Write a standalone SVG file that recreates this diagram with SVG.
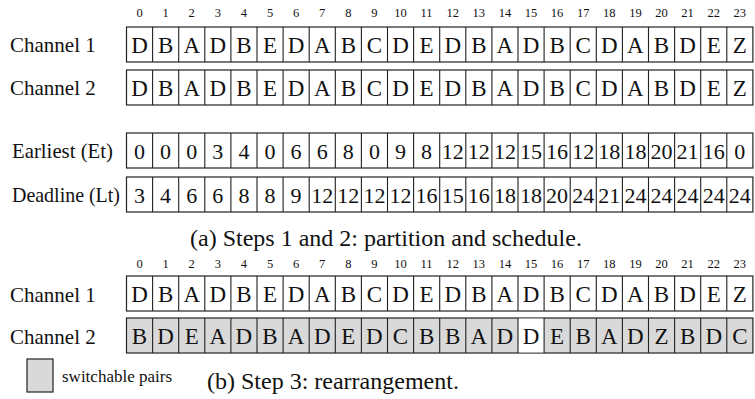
<svg xmlns="http://www.w3.org/2000/svg" width="755" height="399" viewBox="0 0 755 399" font-family="'Liberation Serif', 'Times New Roman', serif">
<style>
text{font-family:"Liberation Serif","Times New Roman",serif;fill:#111}
.idx{font-size:12.5px;text-anchor:middle}
.cell{font-size:23px;text-anchor:middle}
.num{font-size:22px;text-anchor:middle}
.lbl{font-size:21px}
.cap{font-size:24px}
.leg{font-size:17px}
.row{fill:#fff;stroke:#222;stroke-width:1.2}
.row.g{fill:#d9d9d9}
.div{stroke:#222;stroke-width:1.1}
</style>
<defs>
<g id="dividers">
<path class="div" d="M152.6 0v35M178.7 0v35M204.8 0v35M230.9 0v35M257 0v35M283.1 0v35M309.2 0v35M335.3 0v35M361.4 0v35M387.5 0v35M413.6 0v35M439.7 0v35M465.8 0v35M491.9 0v35M518 0v35M544.1 0v35M570.2 0v35M596.3 0v35M622.4 0v35M648.5 0v35M674.6 0v35M700.7 0v35M726.8 0v35"/>
</g>
<g id="idxrow">
<text class="idx" x="139.5">0</text><text class="idx" x="165.6">1</text><text class="idx" x="191.7">2</text><text class="idx" x="217.8">3</text><text class="idx" x="243.9">4</text><text class="idx" x="270">5</text><text class="idx" x="296.1">6</text><text class="idx" x="322.2">7</text><text class="idx" x="348.3">8</text><text class="idx" x="374.4">9</text><text class="idx" x="400.5">10</text><text class="idx" x="426.6">11</text><text class="idx" x="452.7">12</text><text class="idx" x="478.8">13</text><text class="idx" x="504.9">14</text><text class="idx" x="531">15</text><text class="idx" x="557.1">16</text><text class="idx" x="583.2">17</text><text class="idx" x="609.3">18</text><text class="idx" x="635.4">19</text><text class="idx" x="661.5">20</text><text class="idx" x="687.6">21</text><text class="idx" x="713.7">22</text><text class="idx" x="739.8">23</text>
</g>
<g id="seq">
<text class="cell" x="139.5">D</text><text class="cell" x="165.6">B</text><text class="cell" x="191.7">A</text><text class="cell" x="217.8">D</text><text class="cell" x="243.9">B</text><text class="cell" x="270">E</text><text class="cell" x="296.1">D</text><text class="cell" x="322.2">A</text><text class="cell" x="348.3">B</text><text class="cell" x="374.4">C</text><text class="cell" x="400.5">D</text><text class="cell" x="426.6">E</text><text class="cell" x="452.7">D</text><text class="cell" x="478.8">B</text><text class="cell" x="504.9">A</text><text class="cell" x="531">D</text><text class="cell" x="557.1">B</text><text class="cell" x="583.2">C</text><text class="cell" x="609.3">D</text><text class="cell" x="635.4">A</text><text class="cell" x="661.5">B</text><text class="cell" x="687.6">D</text><text class="cell" x="713.7">E</text><text class="cell" x="739.8">Z</text>
</g>
</defs>

<!-- Part (a) -->
<g id="index-a" transform="translate(0,17)"><use href="#idxrow"/></g>

<g id="a-channel1">
<text class="lbl" x="10" y="52">Channel 1</text>
<rect class="row" x="126.5" y="27" width="626.4" height="35"/>
<use href="#dividers" y="27"/>
<g transform="translate(0,53)"><use href="#seq"/></g>
</g>

<g id="a-channel2">
<text class="lbl" x="10" y="95">Channel 2</text>
<rect class="row" x="126.5" y="70" width="626.4" height="35"/>
<use href="#dividers" y="70"/>
<g transform="translate(0,96)"><use href="#seq"/></g>
</g>

<g id="a-earliest">
<text class="lbl" x="12" y="158" textLength="101" lengthAdjust="spacingAndGlyphs">Earliest (Et)</text>
<rect class="row" x="126.5" y="133" width="626.4" height="35"/>
<use href="#dividers" y="133"/>
<g transform="translate(0,159)">
<text class="num" x="139.5">0</text><text class="num" x="165.6">0</text><text class="num" x="191.7">0</text><text class="num" x="217.8">3</text><text class="num" x="243.9">4</text><text class="num" x="270">0</text><text class="num" x="296.1">6</text><text class="num" x="322.2">6</text><text class="num" x="348.3">8</text><text class="num" x="374.4">0</text><text class="num" x="400.5">9</text><text class="num" x="426.6">8</text><text class="num" x="452.7">12</text><text class="num" x="478.8">12</text><text class="num" x="504.9">12</text><text class="num" x="531">15</text><text class="num" x="557.1">16</text><text class="num" x="583.2">12</text><text class="num" x="609.3">18</text><text class="num" x="635.4">18</text><text class="num" x="661.5">20</text><text class="num" x="687.6">21</text><text class="num" x="713.7">16</text><text class="num" x="739.8">0</text>
</g>
</g>

<g id="a-deadline">
<text class="lbl" x="12" y="202" textLength="108" lengthAdjust="spacingAndGlyphs">Deadline (Lt)</text>
<rect class="row" x="126.5" y="177" width="626.4" height="35"/>
<use href="#dividers" y="177"/>
<g transform="translate(0,203)">
<text class="num" x="139.5">3</text><text class="num" x="165.6">4</text><text class="num" x="191.7">6</text><text class="num" x="217.8">6</text><text class="num" x="243.9">8</text><text class="num" x="270">8</text><text class="num" x="296.1">9</text><text class="num" x="322.2">12</text><text class="num" x="348.3">12</text><text class="num" x="374.4">12</text><text class="num" x="400.5">12</text><text class="num" x="426.6">16</text><text class="num" x="452.7">15</text><text class="num" x="478.8">16</text><text class="num" x="504.9">18</text><text class="num" x="531">18</text><text class="num" x="557.1">20</text><text class="num" x="583.2">24</text><text class="num" x="609.3">21</text><text class="num" x="635.4">24</text><text class="num" x="661.5">24</text><text class="num" x="687.6">24</text><text class="num" x="713.7">24</text><text class="num" x="739.8">24</text>
</g>
</g>

<text id="caption-a" class="cap" x="190" y="246">(a) Steps 1 and 2: partition and schedule.</text>

<!-- Part (b) -->
<g id="index-b" transform="translate(0,268)"><use href="#idxrow"/></g>

<g id="b-channel1">
<text class="lbl" x="10" y="302">Channel 1</text>
<rect class="row" x="126.5" y="276" width="626.4" height="35"/>
<use href="#dividers" y="276"/>
<g transform="translate(0,302)"><use href="#seq"/></g>
</g>

<g id="b-channel2">
<text class="lbl" x="10" y="344">Channel 2</text>
<rect class="row g" x="126.5" y="318" width="626.4" height="35"/>
<rect x="518" y="318.6" width="26.1" height="33.8" fill="#fff"/>
<use href="#dividers" y="318"/>
<g transform="translate(0,344)">
<text class="cell" x="139.5">B</text><text class="cell" x="165.6">D</text><text class="cell" x="191.7">E</text><text class="cell" x="217.8">A</text><text class="cell" x="243.9">D</text><text class="cell" x="270">B</text><text class="cell" x="296.1">A</text><text class="cell" x="322.2">D</text><text class="cell" x="348.3">E</text><text class="cell" x="374.4">D</text><text class="cell" x="400.5">C</text><text class="cell" x="426.6">B</text><text class="cell" x="452.7">B</text><text class="cell" x="478.8">A</text><text class="cell" x="504.9">D</text><text class="cell" x="531">D</text><text class="cell" x="557.1">E</text><text class="cell" x="583.2">B</text><text class="cell" x="609.3">A</text><text class="cell" x="635.4">D</text><text class="cell" x="661.5">Z</text><text class="cell" x="687.6">B</text><text class="cell" x="713.7">D</text><text class="cell" x="739.8">C</text>
</g>
</g>

<g id="legend">
<rect class="row g" x="27" y="359" width="26" height="33"/>
<text class="leg" x="62" y="382">switchable pairs</text>
</g>

<text id="caption-b" class="cap" x="207" y="389">(b) Step 3: rearrangement.</text>
<g id="connectors"/>
</svg>
